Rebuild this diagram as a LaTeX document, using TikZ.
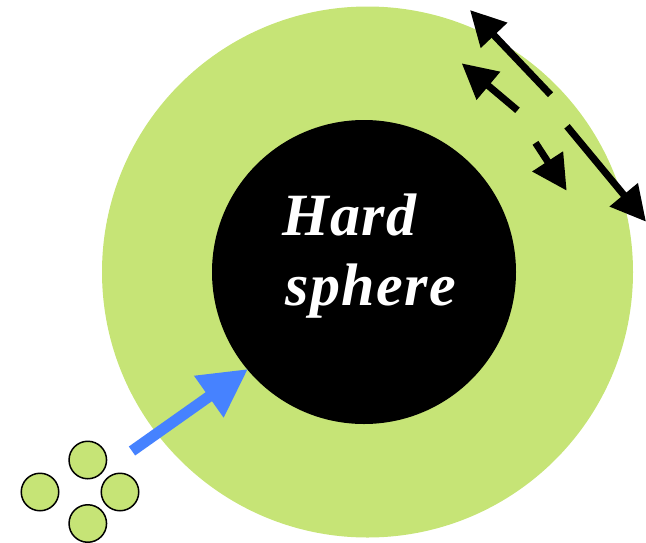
\documentclass[tikz,border=0pt]{standalone}
\usepackage{fontspec}
\setmainfont{Liberation Serif}
\usetikzlibrary{arrows.meta}
\definecolor{shellgreen}{RGB}{198,228,118}
\definecolor{arrowblue}{RGB}{70,130,255}
\tikzset{
  disc/.style={circle, inner sep=0pt, outer sep=0pt, draw=none},
  particle/.style={circle, inner sep=0pt, minimum size=37.5pt, fill=shellgreen, draw=black, line width=1.5pt},
  label/.style={inner sep=0pt, anchor=base west, text=white, font=\fontsize{60pt}{70pt}\selectfont\bfseries\itshape\addfontfeature{LetterSpace=2.5}},
  blackarrow/.style={line width=7pt, -{Triangle[length=35pt,width=35pt]}},
  bluearrow/.style={arrowblue, line width=11pt, -{Triangle[length=48pt,width=48pt]}}
}
\begin{document}
\begin{tikzpicture}[x=1pt,y=-1pt]
\useasboundingbox (0,0) rectangle (646,542);
\clip (0,0) rectangle (646,542);
\node[disc, fill=shellgreen, minimum size=531pt] (shell) at (367.5,272) {};
\node[disc, fill=black, minimum size=304pt] (hs) at (364,272) {};
\node[label] (t1) at (282,235) {Hard};
\node[label] (t2) at (285,305) {sphere};
% particles
\node[particle] (p1) at (87.8,460) {};
\node[particle] (p2) at (40,492) {};
\node[particle] (p3) at (120,492) {};
\node[particle] (p4) at (87.8,523.5) {};
% blue arrow
\coordinate (bt) at (132,451);
\coordinate (bh) at (248,369);
\draw[bluearrow] (bt) -- (bh);
% black arrows
\coordinate (at) at (550.5,94.7);  \coordinate (ah) at (470,10);
\coordinate (bbt) at (517.5,110.3); \coordinate (bbh) at (461.7,63.3);
\coordinate (ct) at (535.5,142.8); \coordinate (ch) at (566.7,190.7);
\coordinate (dt) at (567,126.3);   \coordinate (dh) at (646,221.7);
\draw[blackarrow] (at) -- (ah);
\draw[blackarrow] (bbt) -- (bbh);
\draw[blackarrow] (ct) -- (ch);
\draw[blackarrow] (dt) -- (dh);
\end{tikzpicture}
\end{document}
